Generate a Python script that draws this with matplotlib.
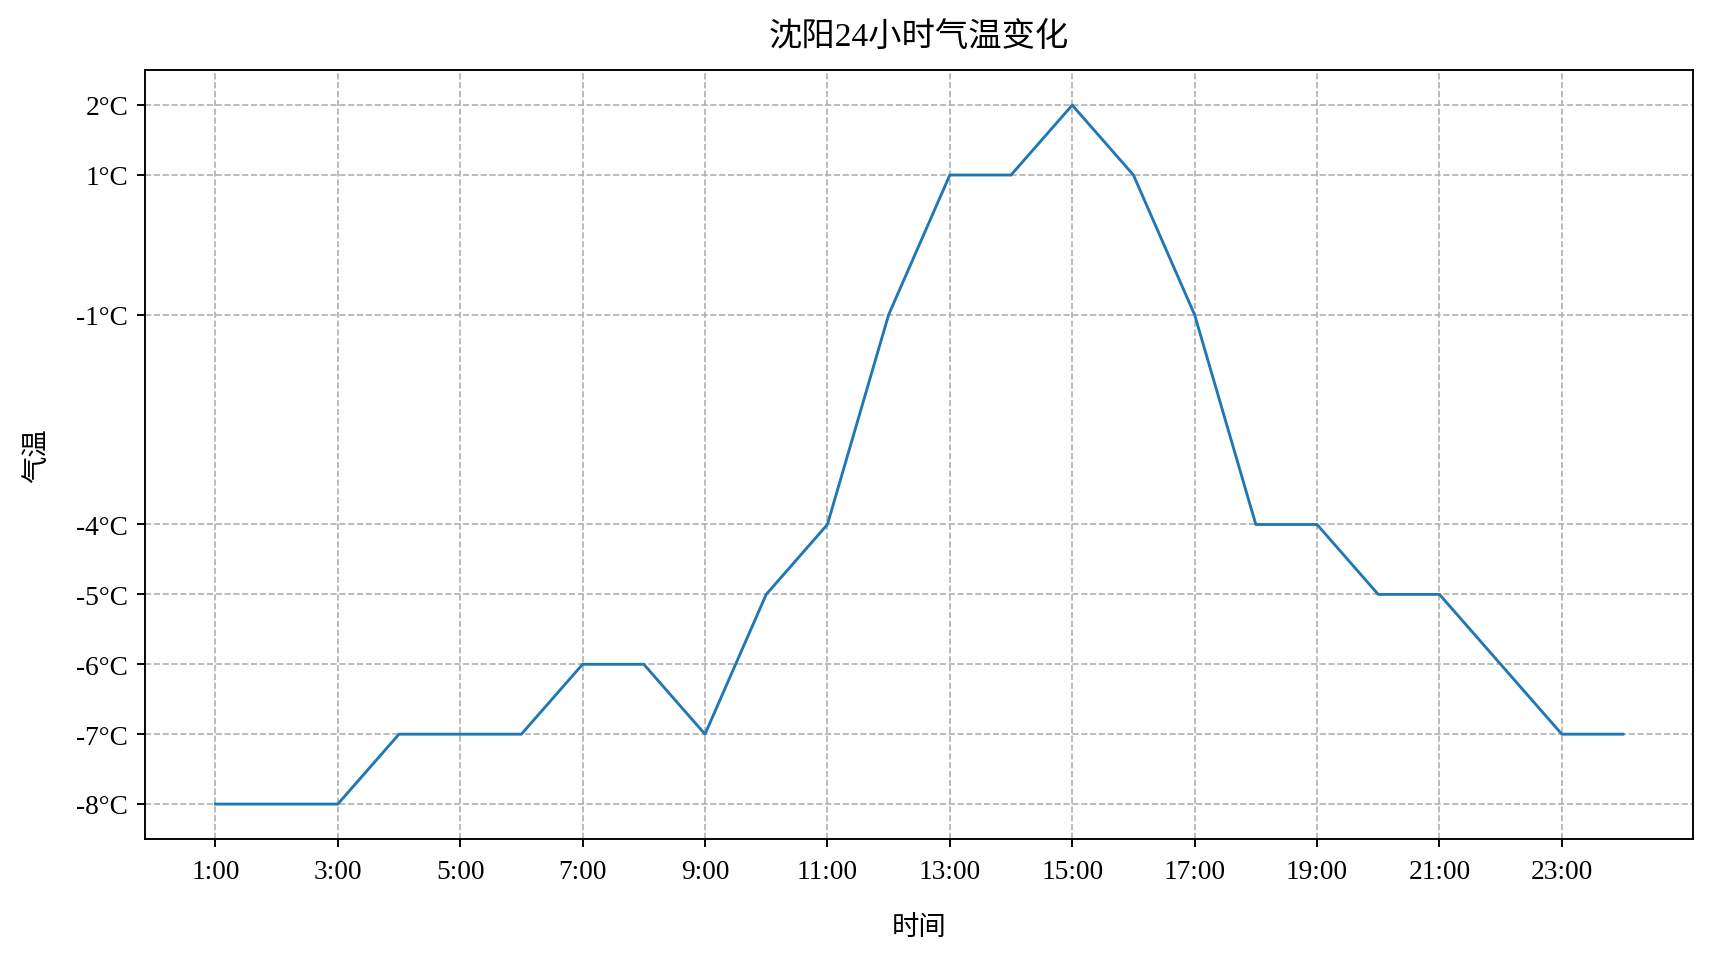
import numpy as np
import matplotlib
matplotlib.use('Agg')
import matplotlib.pyplot as plt

plt.rcParams['font.family'] = ['Liberation Serif', 'Noto Sans CJK SC', 'DejaVu Sans']
plt.rcParams['axes.unicode_minus'] = False

# DATA
hours = list(range(1, 25))
temps = [-8, -8, -8, -7, -7, -7, -6, -6, -7, -5, -4, -1,
         1, 1, 2, 1, -1, -4, -4, -5, -5, -6, -7, -7]
xtick_hours = list(range(1, 24, 2))
xtick_labels = ['%d:00' % h for h in xtick_hours]
ytick_vals = sorted(set(temps))
ytick_labels = ['%d°C' % v for v in ytick_vals]

# PLOTTING
fig, ax = plt.subplots(figsize=(10, 5.6))
fig.subplots_adjust(left=0.0846, right=0.988, top=0.926, bottom=0.125)
ax.plot(hours, temps, color='#1f77b4', linewidth=1.2)
ax.set_xticks(xtick_hours)
ax.set_xticklabels(xtick_labels, fontsize=11.5)
ax.set_yticks(ytick_vals)
ax.set_yticklabels(ytick_labels, fontsize=11.5)
ax.tick_params(axis='x', pad=5)
ax.grid(True, linestyle='--', color='#b0b0b0', linewidth=0.7)
ax.set_xlabel('时间', fontsize=11.5, labelpad=13)
ax.set_ylabel('气温', fontsize=11.5, labelpad=11)
ax.set_title('沈阳24小时气温变化', fontsize=14, pad=10)
plt.savefig('out.png', dpi=171.4)
